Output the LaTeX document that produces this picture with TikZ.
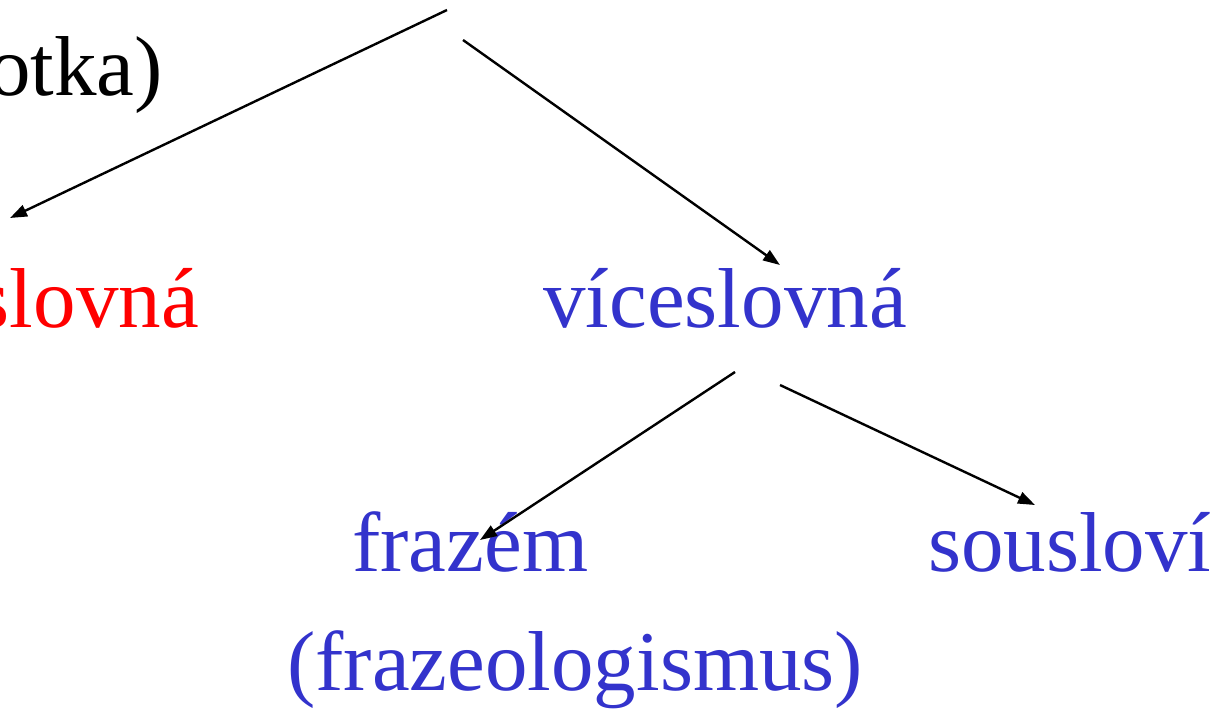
\documentclass[tikz,border=0pt]{standalone}
\usepackage{fontspec}
\setmainfont{Liberation Serif}
\usetikzlibrary{arrows.meta}
\definecolor{tblue}{RGB}{51,51,204}
\definecolor{tred}{RGB}{255,0,0}
\tikzset{
  lbl/.style={inner sep=0pt, font=\fontsize{85}{96}\selectfont},
  conn/.style={line width=2.4pt, -{Triangle[length=17pt,width=12pt]}},
}
\begin{document}
\begin{tikzpicture}[x=1pt,y=-1pt]
\useasboundingbox (0,0) rectangle (1214,710);
\node[lbl, anchor=base east] (top) at (163,95) {otka)};
\node[lbl, anchor=base east, text=tred] (jedno) at (199,327) {slovná};
\node[lbl, anchor=base west, text=tblue] (vice) at (543,327) {víceslovná};
\node[lbl, anchor=base west, text=tblue] (frazem) at (352,571) {frazém};
\node[lbl, anchor=base west, text=tblue] (frazeo) at (287,690) {(frazeologismus)};
\node[lbl, anchor=base west, text=tblue] (souslovi) at (928,571) {sousloví};
\coordinate (s1) at (447,10);
\coordinate (e1) at (10,218);
\coordinate (s2) at (463,40);
\coordinate (e2) at (780,265);
\coordinate (s3) at (735,372);
\coordinate (e3) at (480,540);
\coordinate (s4) at (780,385);
\coordinate (e4) at (1035,505);
\draw[conn] (s1) -- (e1);
\draw[conn] (s2) -- (e2);
\draw[conn] (s3) -- (e3);
\draw[conn] (s4) -- (e4);
\end{tikzpicture}
\end{document}
